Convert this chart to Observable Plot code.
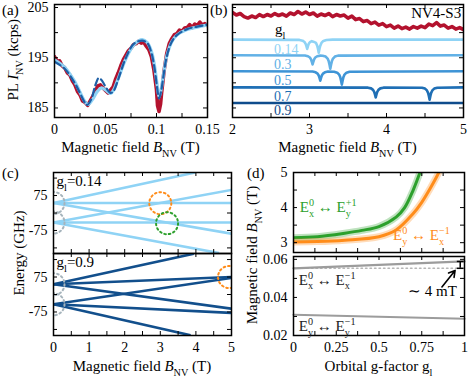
<!DOCTYPE html>
<html><head><meta charset="utf-8">
<script src="https://cdn.jsdelivr.net/npm/d3@7"></script>
<script src="https://cdn.jsdelivr.net/npm/@observablehq/plot@0.6"></script>
<style>
html,body{margin:0;padding:0;background:#fff;}
#fig{position:relative;width:468px;height:381px;overflow:hidden;font-family:"Liberation Serif","Times New Roman",Times,serif;}
#fig svg{position:absolute;}
#fig text{font-family:"Liberation Serif","Times New Roman",Times,serif;}
</style></head><body><div id="fig"></div>
<script>
// ---------------- data ----------------
const aXTicks = [0, 0.025, 0.05, 0.075, 0.1, 0.125, 0.15];
const aXLabels = [0, 0.05, 0.1, 0.15];
const plYTicks = [185, 190, 195, 200, 205];
const plYLabels = [185, 195, 205];
const aRed = [[0,195.2],[0.0025,194.3],[0.005,194.4],[0.0075,193.4],[0.01,193.0],[0.0125,192.0],[0.015,191.6],[0.0175,190.4],[0.02,189.6],[0.0225,188.3],[0.025,187.6],[0.0275,186.4],[0.03,186.1],[0.0325,185.5],[0.035,186.4],[0.0375,187.3],[0.04,188.3],[0.0425,189.4],[0.045,189.6],[0.0475,189.0],[0.05,188.5],[0.0525,188.0],[0.055,188.6],[0.0575,189.2],[0.06,190.8],[0.0625,192.0],[0.065,193.4],[0.0675,194.6],[0.07,195.5],[0.0725,196.4],[0.075,196.9],[0.0775,197.6],[0.08,197.8],[0.0825,198.3],[0.085,197.9],[0.0875,198.1],[0.09,197.3],[0.0925,196.6],[0.095,195.2],[0.0975,192.5],[0.1,188.6],[0.101,185.5],[0.1025,184.3],[0.104,185.8],[0.105,188.0],[0.1075,192.5],[0.11,195.8],[0.1125,197.8],[0.115,198.8],[0.1175,199.6],[0.12,199.8],[0.1225,200.5],[0.125,200.3],[0.1275,200.9],[0.13,201.0],[0.1325,201.6],[0.135,201.0],[0.1375,201.7],[0.14,201.4],[0.1425,202.1],[0.145,201.5],[0.1475,201.8],[0.15,201.4]];
const aFitLight = [[0,194.6],[0.01,193.1],[0.02,190.2],[0.03,186.2],[0.033,185.7],[0.037,186.6],[0.042,188.3],[0.046,189.0],[0.05,188.6],[0.055,187.9],[0.058,188.6],[0.062,190.6],[0.07,194.8],[0.078,197.6],[0.086,198.6],[0.091,198.0],[0.095,196.3],[0.098,193.5],[0.1005,189.8],[0.1025,187.2],[0.1045,188.6],[0.107,191.8],[0.11,195.3],[0.115,198.2],[0.12,199.5],[0.13,200.6],[0.14,201.1],[0.15,201.5]];
const aFitDash = [[0,194.2],[0.01,192.8],[0.02,189.9],[0.03,186.0],[0.032,185.6],[0.036,186.7],[0.04,189.5],[0.0435,191.0],[0.047,190.3],[0.051,188.9],[0.055,188.0],[0.058,188.4],[0.062,190.4],[0.07,195.0],[0.078,197.8],[0.086,198.4],[0.091,197.9],[0.095,196.0],[0.098,193.0],[0.1005,189.2],[0.1025,186.9],[0.1045,188.3],[0.107,191.6],[0.11,195.2],[0.115,198.2],[0.12,199.5],[0.13,200.7],[0.14,201.2],[0.15,201.6]];

const bXTicks = [2, 2.5, 3, 3.5, 4, 4.5, 5];
const bXLabels = [2, 3, 4, 5];
const bRed = [[2.00,204.0],[2.05,203.5],[2.10,203.8],[2.15,203.2],[2.20,202.9],[2.25,203.3],[2.30,203.0],[2.35,203.6],[2.40,203.2],[2.45,203.6],[2.50,203.3],[2.55,203.8],[2.60,203.4],[2.65,203.7],[2.70,203.3],[2.75,203.9],[2.80,203.6],[2.85,204.2],[2.90,203.7],[2.95,204.1],[3.00,203.6],[3.05,203.9],[3.10,203.3],[3.15,203.7],[3.20,203.4],[3.25,203.8],[3.30,203.2],[3.35,203.6],[3.40,203.3],[3.45,203.5],[3.50,202.9],[3.55,203.3],[3.60,202.6],[3.65,202.8],[3.70,202.2],[3.75,202.4],[3.80,201.8],[3.85,202.1],[3.90,201.5],[3.95,201.8],[4.00,201.2],[4.05,201.5],[4.10,200.9],[4.15,201.3],[4.20,200.8],[4.25,201.1],[4.30,200.7],[4.35,201.2],[4.40,200.9],[4.45,201.3],[4.50,201.0],[4.55,201.7],[4.60,201.4],[4.65,202.0],[4.70,201.3],[4.75,201.5],[4.80,200.9],[4.85,201.2],[4.90,200.7],[4.95,201.0],[5.00,200.6]];
const gLabels = ["0.14", "0.3", "0.5", "0.7", "0.9"];
const gColors = ["#8fd3f5", "#62b1e6", "#3e94d6", "#1f6fb5", "#0f4c8c"];
const gLabelY = [196.6, 193.7, 190.5, 187.3, 184.4];
const bModel014 = [[2,198.6],[2.87,198.55],[2.91,198.4],[2.935,198.14],[2.95,197.77],[2.96,197.3],[2.97,196.75],[2.98,197.3],[2.99,197.77],[3.005,198.1],[3.03,198.3],[3.05,198.2],[3.085,197.95],[3.1,197.4],[3.11,196.8],[3.12,196.0],[3.13,196.8],[3.14,197.4],[3.155,197.95],[3.18,198.34],[3.22,198.52],[3.3,198.6],[5,198.6]];
const bModel03 = [[2,195.5],[2.94,195.45],[2.98,195.3],[3.005,195.04],[3.02,194.67],[3.03,194.2],[3.04,193.65],[3.05,194.2],[3.06,194.67],[3.075,195.04],[3.1,195.3],[3.14,195.42],[3.17,195.4],[3.21,195.23],[3.235,194.83],[3.25,194.28],[3.26,193.6],[3.27,192.8],[3.28,193.6],[3.29,194.28],[3.305,194.83],[3.33,195.23],[3.37,195.42],[5,195.5]];
const bModel05 = [[2,192.3],[3.04,192.25],[3.08,192.1],[3.105,191.84],[3.12,191.46],[3.13,191.0],[3.14,190.44],[3.15,191.0],[3.16,191.46],[3.175,191.84],[3.2,192.1],[3.24,192.24],[3.32,192.22],[3.36,192.03],[3.385,191.64],[3.4,191.1],[3.41,190.4],[3.42,189.65],[3.43,190.4],[3.44,191.1],[3.455,191.64],[3.48,192.03],[3.52,192.22],[5,192.3]];
const bModel07 = [[2,189.1],[3.76,189.04],[3.8,188.9],[3.825,188.6],[3.84,188.2],[3.85,187.7],[3.86,187.1],[3.87,187.7],[3.88,188.2],[3.895,188.6],[3.92,188.9],[3.96,189.04],[4.46,189.03],[4.5,188.86],[4.525,188.49],[4.54,188.0],[4.55,187.4],[4.56,186.65],[4.57,187.4],[4.58,188.0],[4.595,188.49],[4.62,188.86],[4.66,189.03],[5,189.1]];
const bModel09 = [[2,186.0],[5,186.0]];

const cXTicks = [0, 0.5, 1, 1.5, 2, 2.5, 3, 3.5, 4, 4.5, 5];
const cXLabels = [0, 1, 2, 3, 4, 5];
const cYTicks = [-150, -75, 0, 75, 150];
const cYLabels = [-75, 75];
// energy levels: [B1, E1, B2, E2]
const cLines014 = [[0,43,3.98,174],[0,43,5,43],[0,43,5,-89],[0,-41,5,99],[0,-41,5,-41],[0,-41,4.65,-172]];
const cLines09 = [[0,44,3.94,175],[0,44,5,75],[0,44,5,-61],[0,-42,5,71],[0,-42,5,-79],[0,-42,3.85,-175]];
const cCircles014 = [[3.0,42,"orange"],[3.19,-44,"green"],[0,43,"gray"],[0,-41,"gray"]];
const cCircles09 = [[4.93,75,"orange"],[0,44,"gray"],[0,-42,"gray"]];

const dXTicks = [0, 0.125, 0.25, 0.375, 0.5, 0.625, 0.75, 0.875, 1];
const dXLabels = [0, 0.25, 0.5, 0.75, 1];
const d1YTicks = [3, 3.5, 4, 4.5, 5];
const d1YLabels = [3, 4, 5];
const d2YTicks = [0.02, 0.03, 0.04, 0.05, 0.06];
const d2YLabels = [0.02, 0.04, 0.06];
const dGreen = [[0,3.14],[0.14,3.17],[0.3,3.27],[0.4,3.35],[0.5,3.46],[0.6,3.73],[0.65,4.0],[0.7,4.5],[0.74,5.0],[0.76,5.25]];
const dOrange = [[0,3.02],[0.14,3.03],[0.3,3.07],[0.5,3.17],[0.6,3.36],[0.7,3.83],[0.75,4.15],[0.8,4.55],[0.85,5.0],[0.87,5.2]];
const dGrayUpper = [[0,0.0553],[1,0.0589]];
const dGrayLower = [[0,0.0309],[1,0.0288]];
const dGrayRef = [[0,0.0553],[0.975,0.0553]];
const dErr = {g: 0.975, lo: 0.0553, hi: 0.0589};
const dArrow = {g1: 0.868, v1: 0.0455, g2: 0.945, v2: 0.0542};

// ---------------- drawing ----------------
const FONT = "'Liberation Serif', 'Times New Roman', Times, serif";
const COL = {red: "#b3122e", light: "#8fd3f5", dash: "#1d5fa6", dark: "#124f8c", green: "#2ca02c", orange: "#ff8c1a", gray: "#a6b4bc", gline: "#9c9c9c"};
const fig = document.getElementById("fig");
const xy = {x: d => d[0], y: d => d[1]};
const fmt = d => String(d);

function panel({fx, fy, fw, fh, xd, yd, marks, xt, xl, yt, yl, mL = 46, mR = 4, mT = 8, mB = 26}) {
  const extra = [];
  extra.push(Plot.tickX(xt, {x: d => d, insetTop: fh - 4, stroke: "#000"}));
  extra.push(Plot.tickX(xt, {x: d => d, insetBottom: fh - 4, stroke: "#000"}));
  extra.push(Plot.tickY(yt, {y: d => d, insetRight: fw - 4, stroke: "#000"}));
  extra.push(Plot.tickY(yt, {y: d => d, insetLeft: fw - 4, stroke: "#000"}));
  if (xl) extra.push(Plot.axisX(xl, {anchor: "bottom", tickSize: 0, tickPadding: 7, label: null, tickFormat: fmt, fontSize: 14}));
  if (yl) extra.push(Plot.axisY(yl, {anchor: "left", tickSize: 0, tickPadding: 6, label: null, tickFormat: fmt, fontSize: 14}));
  const p = Plot.plot({
    width: mL + fw + mR, height: mT + fh + mB,
    marginLeft: mL, marginRight: mR, marginTop: mT, marginBottom: mB,
    x: {domain: xd, axis: null}, y: {domain: yd, axis: null},
    style: {fontFamily: FONT, fontSize: "14px", background: "none", overflow: "visible", color: "#000"},
    marks: [...marks, ...extra, Plot.frame({stroke: "#000", strokeWidth: 1.5})]
  });
  p.setAttribute("font-family", FONT);
  p.style.position = "absolute";
  p.style.left = (fx - mL) + "px";
  p.style.top = (fy - mT) + "px";
  fig.appendChild(p);
  const X = p.scale("x"), Y = p.scale("y");
  return {sx: v => fx - mL + X.apply(v), sy: v => fy - mT + Y.apply(v)};
}

// (a)
const PA = panel({fx: 54, fy: 4, fw: 153, fh: 113, xd: [0, 0.15], yd: [183.1, 205.6],
  xt: aXTicks, xl: aXLabels, yt: plYTicks, yl: plYLabels,
  marks: [
    Plot.line(aRed, {...xy, stroke: COL.red, strokeWidth: 3.6, clip: true}),
    Plot.line(aFitLight, {...xy, stroke: COL.light, strokeWidth: 3.2, curve: "catmull-rom", clip: true}),
    Plot.line(aFitDash, {...xy, stroke: COL.dash, strokeWidth: 2.2, strokeDasharray: "7,4", curve: "catmull-rom", clip: true})
  ]});

// (b)
const bModels = [bModel014, bModel03, bModel05, bModel07, bModel09];
const PB = panel({fx: 232, fy: 4, fw: 231, fh: 113, xd: [2, 5], yd: [183.1, 205.6],
  xt: bXTicks, xl: bXLabels, yt: plYTicks, yl: null,
  marks: [
    Plot.line(bRed, {...xy, stroke: COL.red, strokeWidth: 3.6, clip: true}),
    ...bModels.map((m, i) => Plot.line(m, {...xy, stroke: gColors[i], strokeWidth: 2.6, clip: true})),
    Plot.text(gLabels, {x: 2.54, y: (d, i) => gLabelY[i], text: d => d, fill: (d, i) => gColors[i], textAnchor: "start", fontSize: 14}),
    Plot.text(["NV4-S3"], {x: 4.97, y: 203.8, text: d => d, textAnchor: "end", fontSize: 15})
  ]});

// (c)
const circleColor = {orange: COL.orange, green: COL.green, gray: COL.gray};
function cMarks(lines, circles, color) {
  return [
    Plot.link(lines, {x1: d => d[0], y1: d => d[1], x2: d => d[2], y2: d => d[3], stroke: color, strokeWidth: 2.6, clip: true}),
    Plot.dot(circles, {x: d => d[0], y: d => d[1], r: 11, fill: "none", stroke: d => circleColor[d[2]], strokeWidth: 2, strokeDasharray: "1.6,3", strokeLinecap: "round", clip: true})
  ];
}
const PC1 = panel({fx: 53, fy: 172, fw: 178, fh: 81, xd: [0, 5], yd: [-174, 174],
  xt: cXTicks, xl: null, yt: cYTicks, yl: cYLabels, marks: cMarks(cLines014, cCircles014, COL.light)});
const PC2 = panel({fx: 53, fy: 253, fw: 178, fh: 82, xd: [0, 5], yd: [-176, 176],
  xt: cXTicks, xl: cXLabels, yt: cYTicks, yl: cYLabels, marks: cMarks(cLines09, cCircles09, COL.dark)});

// (d)
const PD1 = panel({fx: 293, fy: 172, fw: 171, fh: 80, xd: [0, 1], yd: [2.72, 5],
  xt: dXTicks, xl: null, yt: d1YTicks, yl: d1YLabels,
  marks: [
    Plot.line(dGreen, {...xy, stroke: COL.green, strokeWidth: 7, strokeOpacity: 0.3, curve: "catmull-rom", clip: true}),
    Plot.line(dGreen, {...xy, stroke: COL.green, strokeWidth: 3, curve: "catmull-rom", clip: true}),
    Plot.line(dOrange, {...xy, stroke: COL.orange, strokeWidth: 7, strokeOpacity: 0.3, curve: "catmull-rom", clip: true}),
    Plot.line(dOrange, {...xy, stroke: COL.orange, strokeWidth: 3, curve: "catmull-rom", clip: true})
  ]});
const PD2 = panel({fx: 293, fy: 256, fw: 171, fh: 79, xd: [0, 1], yd: [0.02, 0.0615],
  xt: dXTicks, xl: dXLabels, yt: d2YTicks, yl: d2YLabels,
  marks: [
    Plot.line(dGrayRef, {...xy, stroke: "#b5b5b5", strokeWidth: 1.5, strokeDasharray: "1.5,3", strokeLinecap: "round"}),
    Plot.line(dGrayUpper, {...xy, stroke: COL.gline, strokeWidth: 2.2}),
    Plot.line(dGrayLower, {...xy, stroke: COL.gline, strokeWidth: 2.2}),
    Plot.ruleX([dErr], {x: "g", y1: "lo", y2: "hi", stroke: "#000", strokeWidth: 1.5}),
    Plot.link([dErr, dErr], {x1: d => d.g - 0.02, x2: d => d.g + 0.02, y1: (d, i) => i ? d.hi : d.lo, y2: (d, i) => i ? d.hi : d.lo, stroke: "#000", strokeWidth: 1.5}),
    Plot.arrow([dArrow], {x1: "g1", y1: "v1", x2: "g2", y2: "v2", stroke: "#000", strokeWidth: 1.6, headLength: 7}),
    Plot.text(["∼ 4 mT"], {x: 0.955, y: 0.0433, text: d => d, textAnchor: "end", fontSize: 15})
  ]});

// ---------------- rich text overlay ----------------
const NS = "http://www.w3.org/2000/svg";
const overlay = document.createElementNS(NS, "svg");
overlay.setAttribute("width", 468); overlay.setAttribute("height", 381);
overlay.style.left = "0px"; overlay.style.top = "0px"; overlay.style.overflow = "visible";
overlay.setAttribute("font-family", FONT);
fig.appendChild(overlay);

function rich(items, {x, y, anchor = "start", size = 15, fill = "#000", rotate = 0}) {
  const t = document.createElementNS(NS, "text");
  t.setAttribute("x", x); t.setAttribute("y", y);
  t.setAttribute("font-size", size); t.setAttribute("fill", fill);
  t.setAttribute("text-anchor", anchor);
  t.setAttribute("font-family", FONT);
  if (rotate) t.setAttribute("transform", `rotate(${rotate} ${x} ${y})`);
  overlay.appendChild(t);
  let shift = 0, pending = 0;
  const span = (str, o = {}) => {
    const s = document.createElementNS(NS, "tspan");
    s.textContent = str;
    if (o.fs) s.setAttribute("font-size", o.fs);
    if (o.italic) s.setAttribute("font-style", "italic");
    if (o.dy) s.setAttribute("dy", o.dy);
    const dx = (o.dx || 0) + pending; pending = 0;
    if (dx) s.setAttribute("dx", dx);
    t.appendChild(s);
    return s;
  };
  for (const it of items) {
    if (typeof it === "string" || it.it) {
      span(typeof it === "string" ? it : it.it, {dy: -shift, italic: !!it.it});
      shift = 0;
    } else {
      const fs = size * 0.68;
      let w1 = 0;
      if (it.sub) {
        const s = span(it.sub, {fs, dy: size * 0.3 - shift});
        shift = size * 0.3; w1 = s.getComputedTextLength();
      }
      if (it.sup) {
        const s = span(it.sup, {fs, dy: -size * 0.42 - shift, dx: -w1});
        shift = -size * 0.42;
        const w2 = s.getComputedTextLength();
        if (w1 > w2) pending = w1 - w2;
      }
    }
  }
  return t;
}
const B_NV = ["Magnetic field ", {it: "B"}, {sub: "NV"}, " (T)"];

// panel letters
rich(["(a)"], {x: 2, y: 15});
rich(["(b)"], {x: 210, y: 15});
rich(["(c)"], {x: 2, y: 178});
rich(["(d)"], {x: 247, y: 178});
// axis titles
rich(B_NV, {x: (PA.sx(0) + PA.sx(0.15)) / 2, y: 152, anchor: "middle"});
rich(B_NV, {x: (PB.sx(2) + PB.sx(5)) / 2, y: 152, anchor: "middle"});
rich(B_NV, {x: (PC2.sx(0) + PC2.sx(5)) / 2, y: 371, anchor: "middle"});
rich(["Orbital g-factor g", {sub: "l"}], {x: (PD2.sx(0) + PD2.sx(1)) / 2, y: 371, anchor: "middle"});
rich(["PL ", {it: "I"}, {sub: "NV", sup: "−"}, " (kcps)"], {x: 18.5, y: PA.sy(194.5), anchor: "middle", rotate: -90});
rich(["Energy (GHz)"], {x: 24, y: 253, anchor: "middle", rotate: -90});
rich(B_NV, {x: 257, y: 255, anchor: "middle", rotate: -90});
// in-panel labels
rich(["g", {sub: "l"}], {x: PB.sx(2.56), y: PB.sy(199.6)});
rich(["g", {sub: "l"}, "=0.14"], {x: PC1.sx(0.1), y: PC1.sy(135) + 5});
rich(["g", {sub: "l"}, "=0.9"], {x: PC2.sx(0.1), y: PC2.sy(137) + 5});
rich(["E", {sub: "x", sup: "0"}, " ↔ E", {sub: "y", sup: "+1"}], {x: PD1.sx(0.04), y: PD1.sy(3.99) + 5, fill: COL.green});
rich(["E", {sub: "y", sup: "0"}, " ↔ E", {sub: "x", sup: "−1"}], {x: PD1.sx(0.585), y: PD1.sy(3.2) + 5, fill: COL.orange});
rich(["E", {sub: "x", sup: "0"}, " ↔ E", {sub: "x", sup: "−1"}], {x: PD2.sx(0.034), y: PD2.sy(0.0489) + 5, fill: "#222"});
rich(["E", {sub: "y", sup: "0"}, " ↔ E", {sub: "y", sup: "−1"}], {x: PD2.sx(0.034), y: PD2.sy(0.0247) + 5, fill: "#222"});
</script></body></html>
